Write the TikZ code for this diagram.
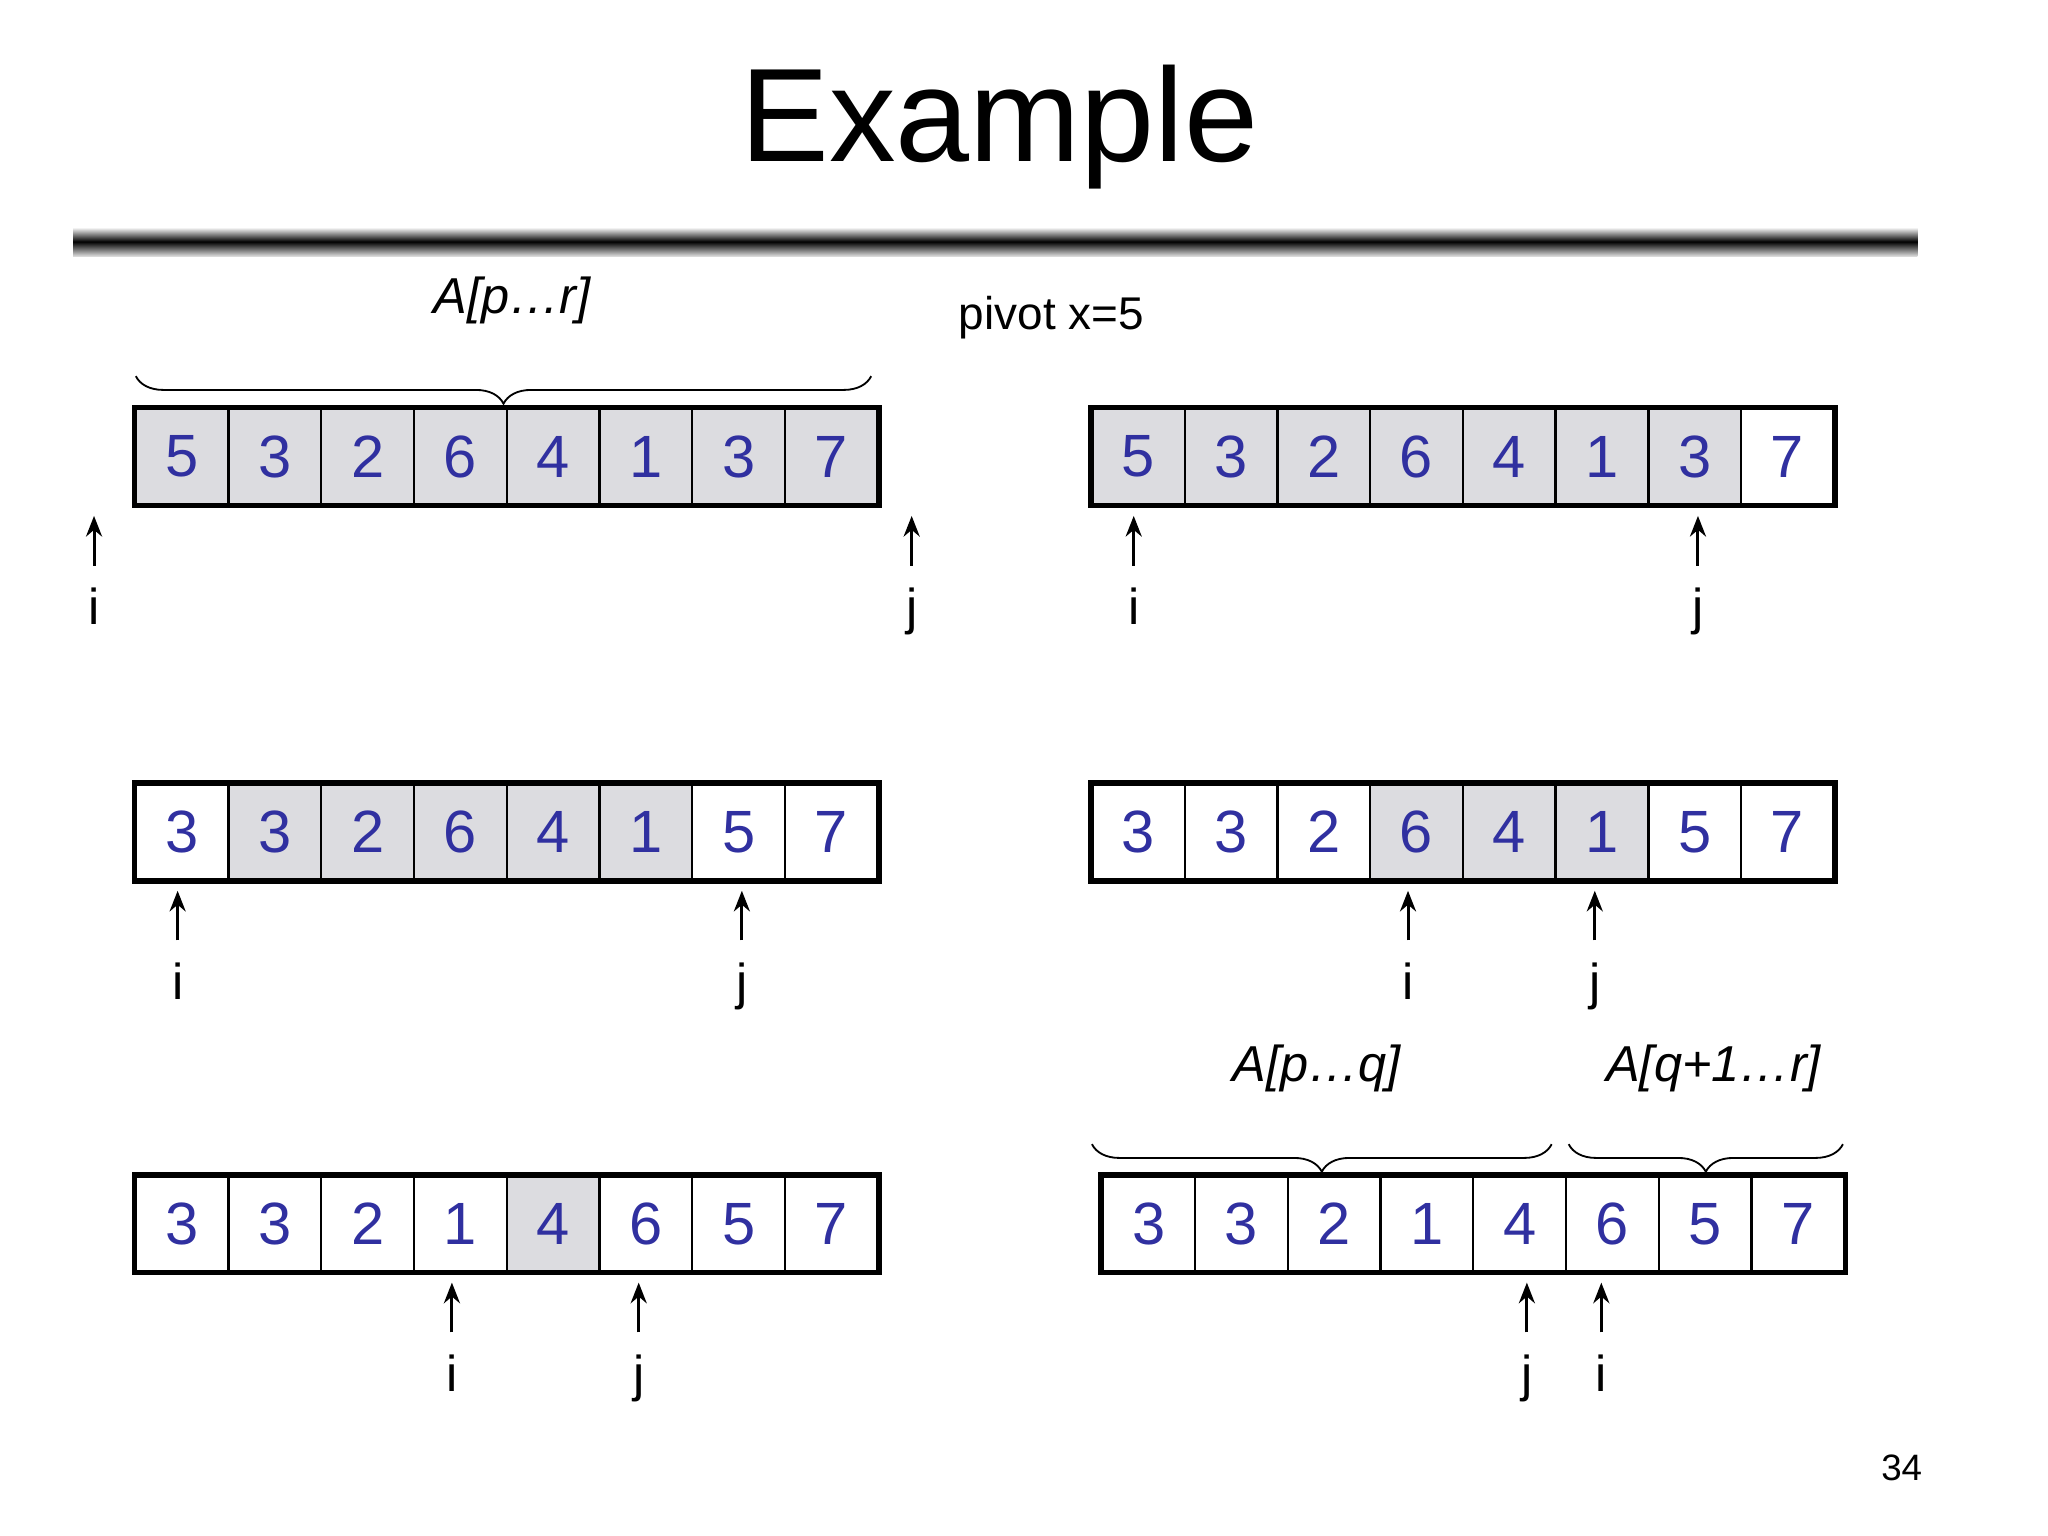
\documentclass[tikz,border=0pt]{standalone}
\usepackage{fontspec}
\setmainfont{Liberation Sans}
\usetikzlibrary{decorations.pathreplacing,arrows.meta}
\definecolor{cellgray}{RGB}{220,220,224}
\definecolor{numblue}{RGB}{48,48,160}
\tikzset{
 x=0.02cm,y=-0.02cm,
 cell/.style={draw=black,line width=1pt,minimum width=1.42cm,minimum height=1.46cm,inner sep=0pt,text=numblue,font=\fontsize{26}{26}\selectfont},
 ptr/.style={line width=1.3pt,-{Stealth[length=9pt,width=7pt]}},
 lbl/.style={anchor=base,font=\fontsize{22}{22}\selectfont},
 brlbl/.style={font=\fontsize{22}{22}\selectfont\itshape},
 br/.style={decorate,decoration={brace,amplitude=12pt,mirror},line width=0.8pt}
}
\newcommand\myarr[4]{%
 \foreach \v/\g [count=\k] in {#4}{%
  \ifnum\g=1 \def\fc{cellgray}\else\def\fc{white}\fi
  \node[cell,fill=\fc] (#1c\k) at ({#2+(\k-0.5)*71},#3) {\v};}
 \draw[line width=2.4pt] (#1c1.north west) rectangle (#1c8.south east);}
\newcommand\myptr[5]{% name x ytail label base
 \coordinate (#1t) at (#2,#3);
 \coordinate (#1h) at (#2,#3-38);
 \draw[ptr] (#1t) -- (#1h);
 \node[lbl] (#1l) at (#2,#5) {#4};}
\begin{document}
\begin{tikzpicture}
\useasboundingbox (0,0) rectangle (1568,1176);
\node[font=\fontsize{58}{58}\selectfont] (title) at (765,97) {Example};
\shade[top color=white,bottom color=white!70!gray,middle color=black] (56,174) rectangle (1468,196);
\node[font=\fontsize{20}{20}\selectfont] (pivot) at (805,243) {pivot x=5};
\node[font=\fontsize{16}{16}\selectfont] (page) at (1456,1124) {34};
% row 1
\myarr{a}{104}{349.5}{5/1,3/1,2/1,6/1,4/1,1/1,3/1,7/1}
\myarr{b}{836}{349.5}{5/1,3/1,2/1,6/1,4/1,1/1,3/1,7/0}
% row 2
\myarr{c}{104}{637}{3/0,3/1,2/1,6/1,4/1,1/1,5/0,7/0}
\myarr{d}{836}{637}{3/0,3/0,2/0,6/1,4/1,1/1,5/0,7/0}
% row 3
\myarr{e}{104}{937}{3/0,3/0,2/0,1/0,4/1,6/0,5/0,7/0}
\myarr{f}{844}{937}{3/0,3/0,2/0,1/0,4/0,6/0,5/0,7/0}
% pointers
\myptr{p1}{72}{433}{i}{478}
\myptr{p2}{698}{433}{j}{478}
\myptr{p3}{868}{433}{i}{478}
\myptr{p4}{1300}{433}{j}{478}
\myptr{p5}{136}{720}{i}{765}
\myptr{p6}{568}{720}{j}{765}
\myptr{p7}{1078}{720}{i}{765}
\myptr{p8}{1221}{720}{j}{765}
\myptr{p9}{346}{1020}{i}{1065}
\myptr{p10}{489}{1020}{j}{1065}
\myptr{p11}{1169}{1020}{j}{1065}
\myptr{p12}{1226}{1020}{i}{1065}
% braces
\coordinate (b1s) at (104,288); \coordinate (b1e) at (667,288);
\draw[br] (b1s) -- (b1e);
\node[brlbl] (l1) at (392,230) {A[p…r]};
\coordinate (b2s) at (836,876); \coordinate (b2e) at (1188,876);
\draw[br] (b2s) -- (b2e);
\node[brlbl] (l2) at (1008,818) {A[p…q]};
\coordinate (b3s) at (1201,876); \coordinate (b3e) at (1411,876);
\draw[br] (b3s) -- (b3e);
\node[brlbl] (l3) at (1312,818) {A[q+1…r]};
\end{tikzpicture}
\end{document}
